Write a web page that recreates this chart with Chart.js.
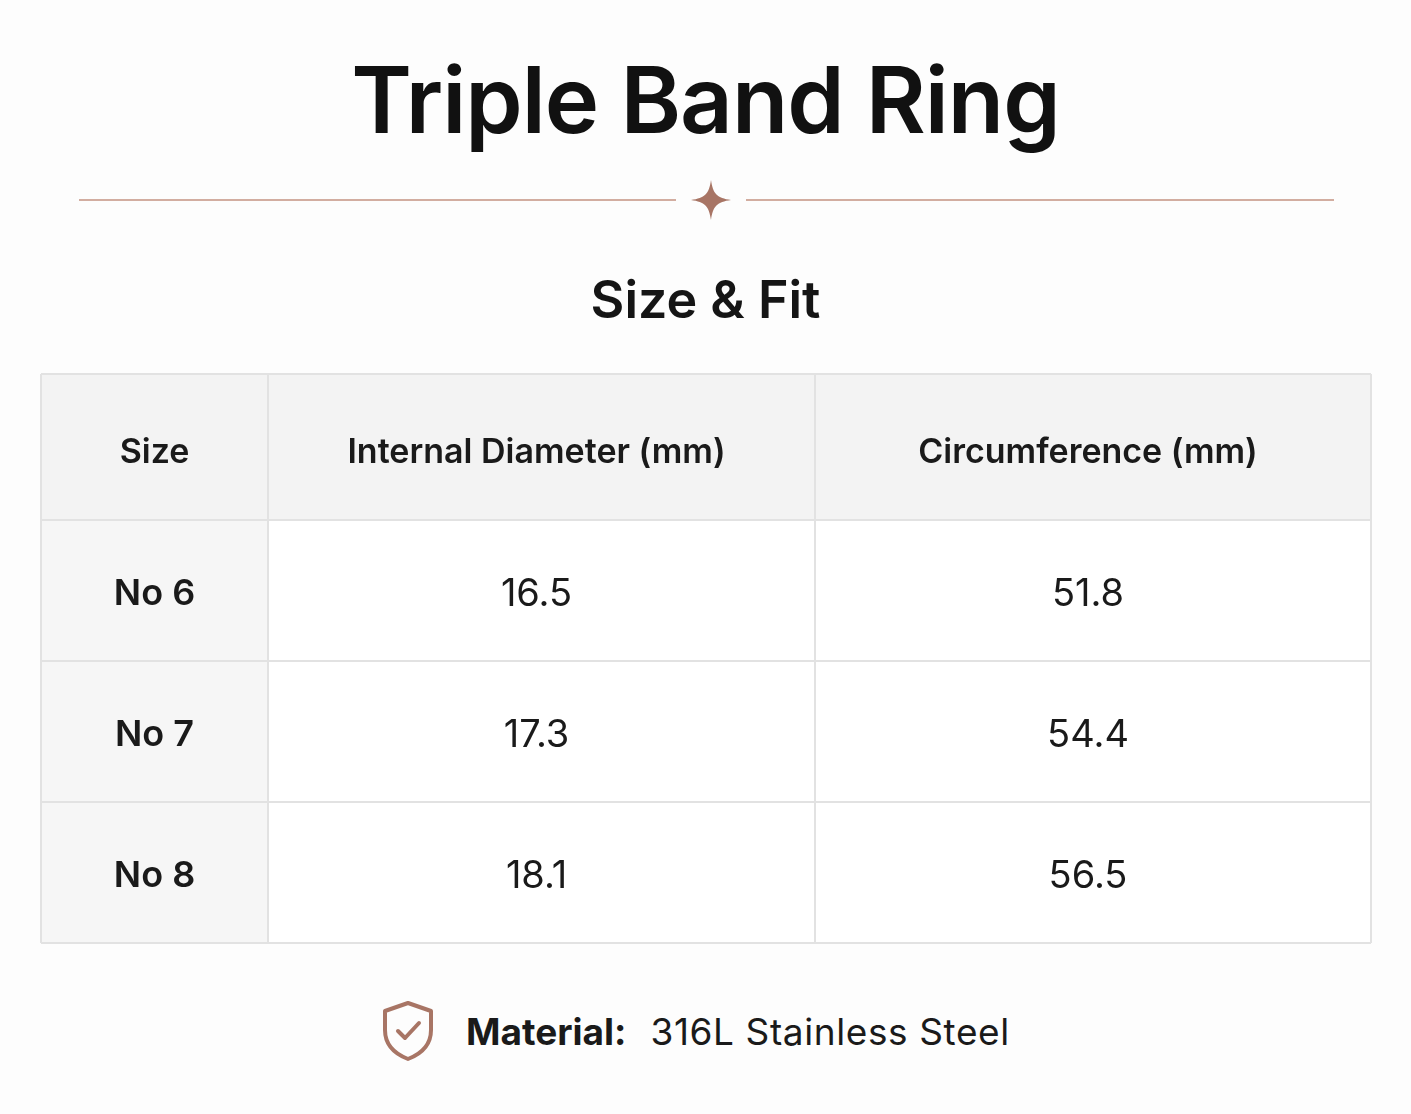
<!DOCTYPE html>
<html>
<head>
<meta charset="utf-8">
<script src="https://cdn.jsdelivr.net/npm/chart.js@4"></script>
<style>
  body { margin:0; width:1411px; height:1114px; background:#fdfdfd; font-family:Inter, "Open Sans", sans-serif; position:relative; overflow:hidden; }
  #title { position:absolute; top:44px; left:0; width:1411px; text-align:center; font-size:92px; font-weight:600; color:#111; letter-spacing:-1px; }
  .line { position:absolute; top:199px; height:1.5px; background:#d2ada0; }
  #star { position:absolute; top:180px; left:691px; }
  #sub { position:absolute; top:268px; left:0; width:1411px; text-align:center; font-size:52px; font-weight:600; color:#151515; }
  #wrap { position:absolute; left:40px; top:373px; width:1332px; height:571px; }
  #foot { position:absolute; top:1000px; left:380px; display:flex; align-items:center; font-size:37px; color:#1a1a1a; }
</style>
</head>
<body>
<div id="title">Triple Band Ring</div>
<div class="line" style="left:79px;width:597px"></div>
<div class="line" style="left:746px;width:588px"></div>
<svg id="star" width="40" height="40" viewBox="0 0 40 40"><path d="M20 0 C22 14 26 18 40 20 C26 22 22 26 20 40 C18 26 14 22 0 20 C14 18 18 14 20 0Z" fill="#a87565"/></svg>
<div id="sub">Size &amp; Fit</div>
<div id="wrap"><canvas id="tbl"></canvas></div>
<div id="foot">
  <svg width="56" height="62" viewBox="0 0 56 62"><path d="M28 3 L51 11 V30 C51 45 41 54 28 59 C15 54 5 45 5 30 V11 Z" fill="none" stroke="#a87565" stroke-width="4" stroke-linejoin="round"/><path d="M18 31 L25 38 L39 23" fill="none" stroke="#a87565" stroke-width="4" stroke-linecap="round" stroke-linejoin="round"/></svg>
  <span style="font-weight:700;margin-left:30px">Material:</span><span style="margin-left:24px;letter-spacing:0.6px">316L Stainless Steel</span>
</div>
<script>
// Table data
const columns = ["Size", "Internal Diameter (mm)", "Circumference (mm)"];
const sizes = ["No 6", "No 7", "No 8"];
const diameters = ["16.5", "17.3", "18.1"];
const circumferences = ["51.8", "54.4", "56.5"];

// layout weights (column widths / row heights)
const colWeights = [227, 547, 556];
const rowWeights = [146, 141, 141, 141];

function edges(weights, start, size) {
  const total = weights.reduce((a, b) => a + b, 0);
  let pos = start, out = [start];
  weights.forEach(w => { pos += w / total * size; out.push(pos); });
  return out;
}

const tablePlugin = {
  id: "table",
  afterDraw(chart) {
    const ctx = chart.ctx, a = chart.chartArea;
    const xs = edges(colWeights, a.left, a.width);
    const ys = edges(rowWeights, a.top, a.height);
    const rows = [columns].concat(sizes.map((s, i) => [s, diameters[i], circumferences[i]]));
    ctx.save();
    rows.forEach((row, r) => {
      row.forEach((txt, c) => {
        const x0 = xs[c], x1 = xs[c + 1], y0 = ys[r], y1 = ys[r + 1];
        ctx.fillStyle = r === 0 ? "#f3f3f3" : (c === 0 ? "#f6f6f6" : "#ffffff");
        ctx.fillRect(x0, y0, x1 - x0, y1 - y0);
        ctx.fillStyle = "#1a1a1a";
        ctx.textAlign = "center";
        ctx.textBaseline = "middle";
        if (r === 0) ctx.font = "600 34px Inter";
        else if (c === 0) ctx.font = "600 36px Inter";
        else ctx.font = "400 38px Inter";
        ctx.fillText(txt, (x0 + x1) / 2 - (c > 0 ? 5 : 0), (y0 + y1) / 2 + (r === 0 ? 6 : 4));
      });
    });
    ctx.strokeStyle = "#e2e2e2";
    ctx.lineWidth = 2;
    xs.forEach(x => { ctx.beginPath(); ctx.moveTo(x, a.top); ctx.lineTo(x, a.bottom); ctx.stroke(); });
    ys.forEach(y => { ctx.beginPath(); ctx.moveTo(a.left, y); ctx.lineTo(a.right, y); ctx.stroke(); });
    ctx.restore();
  }
};

new Chart(document.getElementById("tbl"), {
  type: "bar",
  data: { labels: columns, datasets: [] },
  options: {
    responsive: true,
    maintainAspectRatio: false,
    animation: false,
    layout: { padding: 1 },
    plugins: { legend: { display: false }, tooltip: { enabled: false } },
    scales: { x: { display: false }, y: { display: false } }
  },
  plugins: [tablePlugin]
});
</script>
</body>
</html>
